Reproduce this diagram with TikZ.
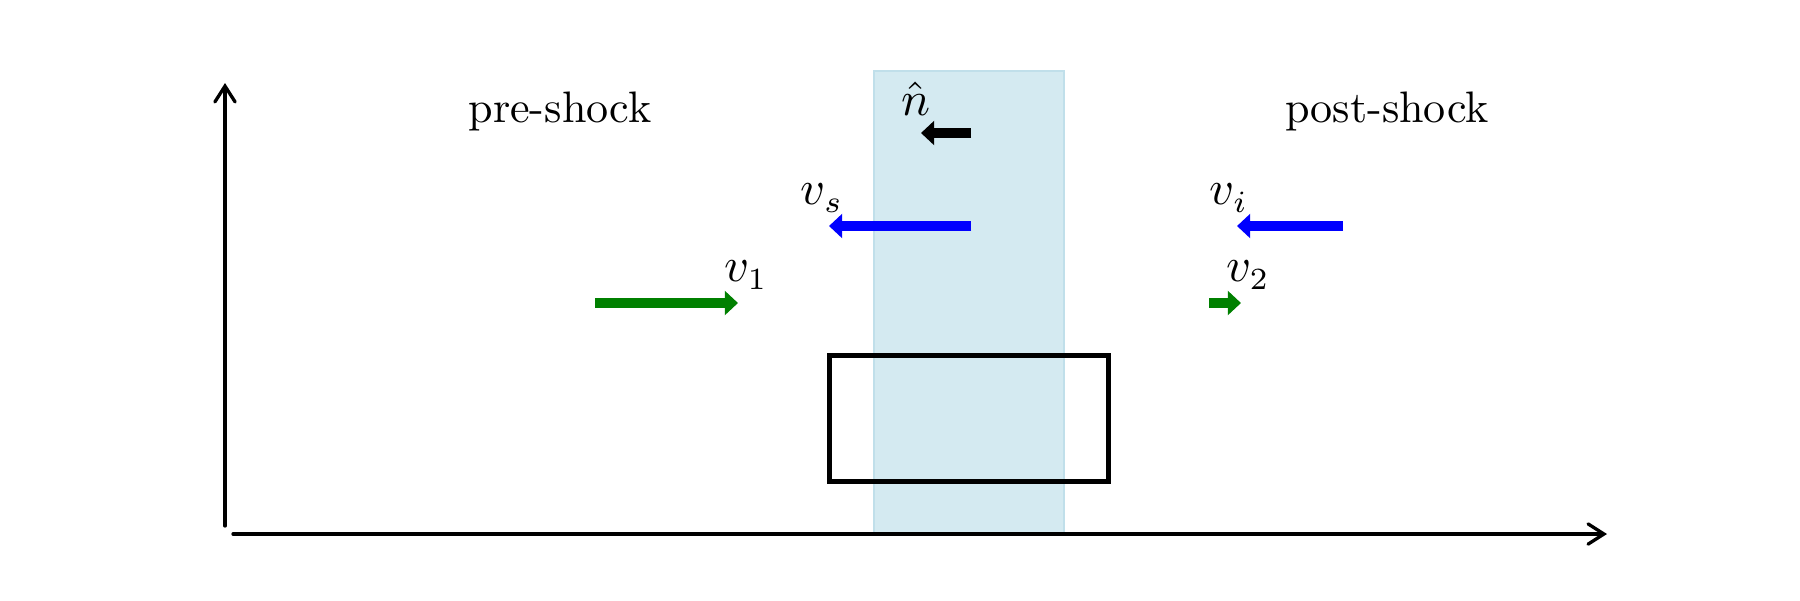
\documentclass[tikz,border=0pt]{standalone}
\usetikzlibrary{arrows.meta}
\definecolor{bandfill}{RGB}{212,234,241}
\definecolor{bandedge}{RGB}{192,223,234}
\definecolor{vgreen}{RGB}{0,128,0}
\definecolor{vblue}{RGB}{0,0,255}
\begin{document}
\begin{tikzpicture}[x=0.2268pt,y=-0.2268pt,
  axisline/.style={line width=0.75pt,line cap=round,-{Straight Barb[length=3.6pt,width=4.6pt,line cap=round]}},
  vecarrow/.style={line width=2.05pt,-{Triangle[length=3pt,width=5.4pt]}},
  lbl/.style={inner sep=0pt,font=\fontsize{10}{12}\selectfont},
  mlbl/.style={inner sep=0pt,font=\fontsize{10.5}{12}\selectfont}]
\useasboundingbox (0,0) rectangle (1800,600);
% shock band
\path[fill=bandfill,draw=bandedge,line width=0.6pt] (874,71) rectangle (1064,534);
% control box
\node[draw=black,line width=1pt,minimum width=279*0.2268pt,minimum height=126*0.2268pt,inner sep=0pt] (box) at (969,418.5) {};
% axes
\coordinate (yb) at (225,526);
\coordinate (yt) at (225,83);
\coordinate (xl) at (233,534);
\coordinate (xr) at (1607,534);
\draw[axisline] (yb) -- (yt);
\draw[axisline] (xl) -- (xr);
% region labels
\node[lbl] (pre) at (560,111) {pre-shock};
\node[lbl] (post) at (1387,111) {post-shock};
% arrows
\coordinate (nA) at (971,133);  \coordinate (nB) at (921,133);
\coordinate (sA) at (971,226);  \coordinate (sB) at (829,226);
\coordinate (iA) at (1343,226); \coordinate (iB) at (1237,226);
\coordinate (aA) at (595,303);  \coordinate (aB) at (738,303);
\coordinate (bA) at (1209,303); \coordinate (bB) at (1241,303);
\draw[vecarrow,black] (nA) -- (nB);
\draw[vecarrow,vblue] (sA) -- (sB);
\draw[vecarrow,vblue] (iA) -- (iB);
\draw[vecarrow,vgreen] (aA) -- (aB);
\draw[vecarrow,vgreen] (bA) -- (bB);
% labels
\node[mlbl] (nl) at (916,99) {$\hat{n}$};
\node[mlbl] (sl) at (822,198) {$v_s$};
\node[mlbl] (il) at (1229,198) {$v_i$};
\node[mlbl] (l1) at (746,275) {$v_1$};
\node[mlbl] (l2) at (1248,275) {$v_2$};
\end{tikzpicture}
\end{document}
